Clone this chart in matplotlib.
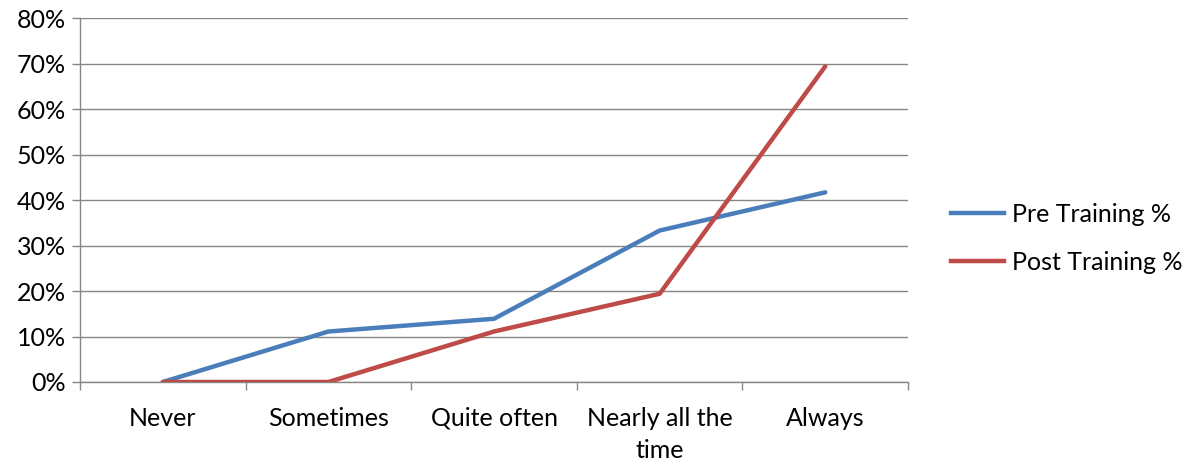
import matplotlib
matplotlib.use("Agg")
import matplotlib.pyplot as plt
from matplotlib.lines import Line2D
import numpy as np

categories = ["Never", "Sometimes", "Quite often", "Nearly all the\ntime", "Always"]
pre_training = [0.0, 11.1, 13.9, 33.3, 41.7]
post_training = [0.0, 0.0, 11.1, 19.4, 69.4]
series_names = ["Pre Training %", "Post Training %"]
y_ticks = [0, 10, 20, 30, 40, 50, 60, 70, 80]

plt.rcParams['font.family'] = ['Lato', 'DejaVu Sans']
FS = 18

fig = plt.figure(figsize=(11.83, 4.65), dpi=100)
ax = fig.add_axes([0.0676, 0.1785, 0.7000, 0.7825])

x = np.arange(len(categories))
blue = "#4A7EBB"
red = "#BE4B48"
ax.plot(x, pre_training, color=blue, lw=3.2, solid_capstyle="round", zorder=3)
ax.plot(x, post_training, color=red, lw=3.2, solid_capstyle="round", zorder=3)

ax.set_xlim(-0.5, len(categories) - 0.5)
ax.set_ylim(0, 80)
ax.set_yticks(y_ticks)
ax.set_yticklabels([f"{v}%" for v in y_ticks], fontsize=FS)
ax.set_xticks(x)
ax.set_xticklabels(categories, fontsize=FS, linespacing=1.45)
ax.set_xticks(np.arange(-0.5, len(categories), 1.0), minor=True)
ax.tick_params(axis="x", which="major", length=0, pad=18)
ax.tick_params(axis="x", which="minor", length=6, color="#868686", width=1)
ax.tick_params(axis="y", length=6, color="#868686", width=1, pad=4)

ax.grid(axis="y", color="#868686", lw=1)
ax.set_axisbelow(True)
for s in ["top", "right"]:
    ax.spines[s].set_visible(False)
for s in ["left", "bottom"]:
    ax.spines[s].set_color("#868686")
    ax.spines[s].set_linewidth(1)

handles = [Line2D([0], [0], color=blue, lw=3.2), Line2D([0], [0], color=red, lw=3.2)]
fig.legend(handles, series_names, loc="center left", bbox_to_anchor=(0.785, 0.488),
           frameon=False, fontsize=FS, handlelength=2.1, labelspacing=1.0, handletextpad=0.35)

fig.savefig("out.png", dpi=100)
